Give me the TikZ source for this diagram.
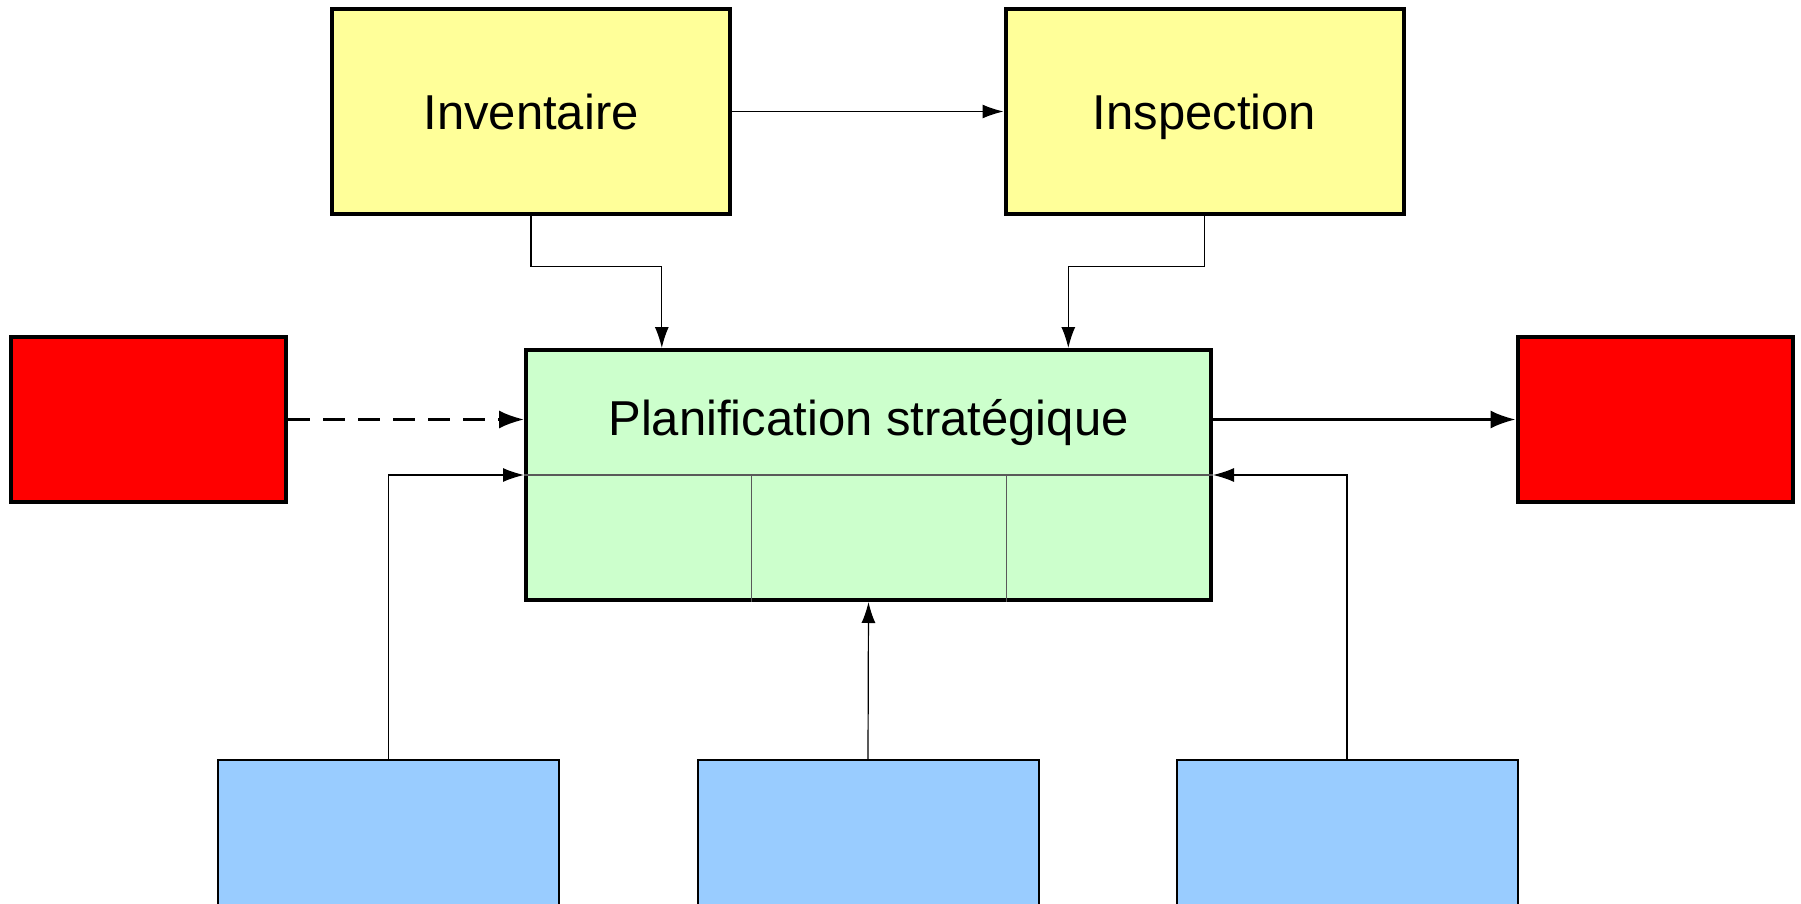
\documentclass[tikz,border=0pt]{standalone}
\usepackage{fontspec}
\setmainfont{Liberation Sans}
\usetikzlibrary{arrows.meta,calc}

\definecolor{jaune}{HTML}{FFFF99}
\definecolor{vert}{HTML}{CCFFCC}
\definecolor{rouge}{HTML}{FF0000}
\definecolor{bleu}{HTML}{99CCFF}

\tikzset{
    boite/.style={draw, line width=2pt, inner sep=0pt, text height=18pt, text depth=0pt, font=\fontsize{24.5}{29}\selectfont},
    fleche/.style={-{Latex[length=10.5pt,width=7pt]}, line width=0.6pt},
    grosfleche/.style={-{Latex[length=12.5pt,width=9pt]}, line width=1.25pt}
}

\begin{document}
\begin{tikzpicture}[x=0.5pt, y=-0.5pt]
    \useasboundingbox (0,0) rectangle (1801,904);
    \clip (0,0) rectangle (1801,904);
    % Haut
    \node[boite, fill=jaune, minimum width=199pt, minimum height=102.5pt] (inv) at (531,111.5) {Inventaire};
    \node[boite, fill=jaune, minimum width=199pt, minimum height=102.5pt] (insp) at (1204.5,111.5) {Inspection};
    % Centre
    \node[boite, fill=vert, minimum width=342.5pt, minimum height=125pt] (plan) at (868.5,475) {};
    \node[font=\fontsize{24.5}{29}\selectfont] (titre) at ($(plan.north)!0.59!(plan.center)$) {Planification stratégique};
    \draw[black!65, line width=0.6pt] (plan.west) -- (plan.east);
    \foreach \t in {0.33,0.70} {
        \draw[black!65, line width=0.6pt] ($(plan.west)!\t!(plan.east)$) -- ($(plan.south west)!\t!(plan.south east)$);
    }
    % Rouges
    \node[boite, fill=rouge, minimum width=137.5pt, minimum height=82.5pt] (rougeg) at (148.5,419.5) {};
    \node[boite, fill=rouge, minimum width=137.5pt, minimum height=82.5pt] (rouged) at (1655,419.5) {};
    % Bas
    \foreach \x/\n in {388.5/1, 868/2, 1347/3} {
        \node[draw, line width=1pt, fill=bleu, minimum width=170.5pt, minimum height=90pt] (bleu\n) at (\x,850) {};
    }
    % Connecteurs
    \draw[fleche] (inv.east) -- (insp.west);
    \draw[fleche] (inv.south) |- ($(inv.south)!0.38!(plan.north)$) -| ($(plan.north west)!0.2!(plan.north east)$);
    \draw[fleche] (insp.south) |- ($(insp.south)!0.38!(plan.north)$) -| ($(plan.north west)!0.79!(plan.north east)$);
    \draw[grosfleche, dash pattern=on 11pt off 6.5pt] (rougeg.east) -- (rougeg.east -| plan.west);
    \draw[grosfleche] (plan.east |- rouged.west) -- (rouged.west);
    \draw[fleche] (bleu1.north) |- (plan.west);
    \draw[fleche] (bleu2.north) -- (plan.south);
    \draw[fleche] (bleu3.north) |- (plan.east);
\end{tikzpicture}
\end{document}
